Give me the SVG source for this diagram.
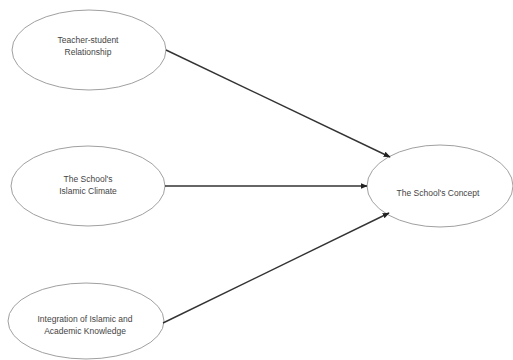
<svg xmlns="http://www.w3.org/2000/svg" width="513" height="360" viewBox="0 0 513 360">
<style>
.node ellipse{fill:#fff;stroke:#a0a0a0;stroke-width:1}
.node text{font-family:"Liberation Sans",Arial,sans-serif;font-size:8.5px;fill:#444;text-anchor:middle}
.conn line{stroke:#333;stroke-width:1.4;marker-end:url(#arr)}
</style>
<defs>
<marker id="arr" viewBox="0 0 10 10" refX="9" refY="5" markerWidth="5" markerHeight="5" orient="auto" markerUnits="strokeWidth">
<path d="M0,1 L10,5 L0,9 z" fill="#222"/>
</marker>
</defs>
<rect width="513" height="360" fill="#fff"/>
<g id="n1" class="node">
<ellipse cx="89" cy="50" rx="77" ry="40"/>
<text x="88" y="43">Teacher-student</text>
<text x="88" y="55">Relationship</text>
</g>
<g id="n2" class="node">
<ellipse cx="88" cy="186" rx="77" ry="40"/>
<text x="88" y="182">The School's</text>
<text x="88" y="194">Islamic Climate</text>
</g>
<g id="n3" class="node">
<ellipse cx="86" cy="321" rx="78" ry="38"/>
<text x="85" y="322">Integration of Islamic and</text>
<text x="85" y="334">Academic Knowledge</text>
</g>
<g id="n4" class="node">
<ellipse cx="440" cy="186" rx="73" ry="41"/>
<text x="438" y="196">The School's Concept</text>
</g>
<g id="connectors" class="conn">
<line x1="166" y1="50" x2="390" y2="157"/>
<line x1="165" y1="186" x2="367" y2="186"/>
<line x1="163" y1="323" x2="389" y2="213"/>
</g>
</svg>
